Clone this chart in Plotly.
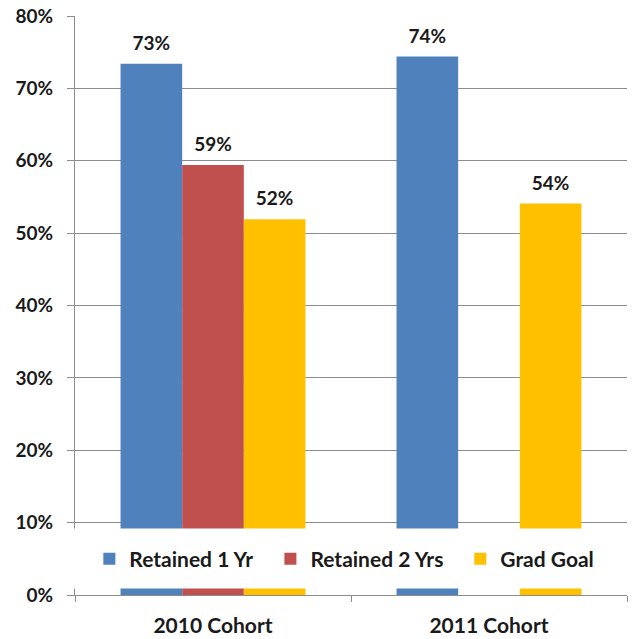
import plotly.graph_objects as go

categories = ["2010 Cohort", "2011 Cohort"]
series_names = ["Retained 1 Yr", "Retained 2 Yrs", "Grad Goal"]
retained_1yr = [0.734, 0.744]
retained_2yrs = [0.594, None]
grad_goal = [0.519, 0.541]
colors = ["#4F81BD", "#C0504D", "#FFC000"]

series_values = [retained_1yr, retained_2yrs, grad_goal]
legend_ids = ["legend", "legend2", "legend3"]
legend_x = [0.026, 0.354, 0.698]
FONT = "Lato"
TXT = "#1a1a1a"
GRID = "#8c8c8c"

fig = go.Figure()
for name, vals, col, lid in zip(series_names, series_values, colors, legend_ids):
    fig.add_trace(go.Bar(
        x=categories, y=vals, name=name, marker=dict(color=col, line=dict(width=0)),
        offsetgroup=name, alignmentgroup="a", hoverinfo="skip", legend=lid))
for name, vals in zip(series_names, series_values):
    fig.add_trace(go.Scatter(
        x=categories, y=vals, mode="markers+text", showlegend=False,
        offsetgroup=name, alignmentgroup="a",
        marker=dict(size=13, opacity=0),
        text=[None if v is None else f"{round(v*100):.0f}%" for v in vals],
        textposition="top center", cliponaxis=False,
        textfont=dict(family=FONT, size=19, color=TXT, weight="bold"),
        hoverinfo="skip"))

fig.add_shape(type="rect", xref="paper", yref="y", x0=-0.01, x1=1.0,
              y0=0.009, y1=0.092, fillcolor="white", line=dict(width=0),
              layer="above")

legend_style = dict(orientation="h", xanchor="left", y=0.062, yanchor="middle",
                    bgcolor="rgba(0,0,0,0)",
                    font=dict(family=FONT, size=21, color=TXT, weight="bold"),
                    itemwidth=30)

fig.update_layout(
    width=639, height=639,
    margin=dict(l=75, r=12, t=16, b=44),
    paper_bgcolor="white", plot_bgcolor="white",
    barmode="group", bargap=0.33, bargroupgap=0,
    scattermode="group", scattergap=0.33,
    font=dict(family=FONT, size=19, color=TXT, weight="bold"),
    showlegend=True,
    legend=dict(x=legend_x[0], **legend_style),
    legend2=dict(x=legend_x[1], **legend_style),
    legend3=dict(x=legend_x[2], **legend_style),
)
fig.update_xaxes(showgrid=False, showline=True, linecolor=GRID, linewidth=1, automargin=False,
                 ticks="outside", tickson="boundaries", ticklen=6, tickcolor=GRID,
                 ticklabelstandoff=12, tickfont=dict(family=FONT, size=21, color=TXT, weight="bold"))
fig.update_yaxes(range=[0, 0.8], dtick=0.1, tickformat=".0%", showgrid=True, gridcolor=GRID,
                 gridwidth=1, showline=True, linecolor=GRID, linewidth=1, zeroline=False,
                 automargin=False,
                 ticks="outside", ticklen=7, tickcolor=GRID, ticklabelstandoff=10,
                 tickfont=dict(family=FONT, size=19, color=TXT, weight="bold"))

fig.write_html("out.html")
